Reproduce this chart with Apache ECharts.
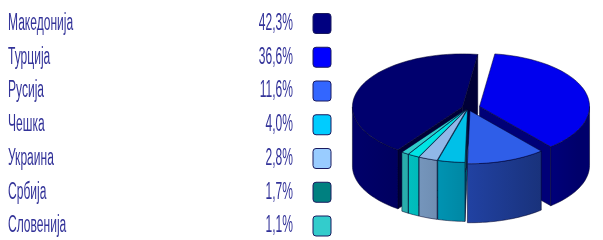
<!DOCTYPE html>
<html>
<head>
<meta charset="utf-8">
<script src="https://cdn.jsdelivr.net/npm/echarts@6/dist/echarts.min.js"></script>
<style>
html, body { margin: 0; padding: 0; background: #fff; }
#chart { width: 603px; height: 240px; }
</style>
</head>
<body>
<div id="chart"></div>
<script>
// udeli po zemji (%)
var countries = ['Македонија', 'Турција', 'Русија', 'Чешка', 'Украина', 'Србија', 'Словенија'];
var shares = [42.3, 36.6, 11.6, 4.0, 2.8, 1.7, 1.1];
var shareLabels = ['42,3%', '36,6%', '11,6%', '4,0%', '2,8%', '1,7%', '1,1%'];

// boi
var legendColors = ['#000080', '#0000ff', '#3366ff', '#00ccff', '#99ccff', '#008080', '#33cccc'];
var sliceColors = ['#00006e', '#0000ee', '#2f5ee8', '#00c0e8', '#90b8e8', '#00e4e4', '#30cccc'];
var explodeBy = [6, 12, 6, 3, 3, 3, 3];

// redosled na parcinjata (vo nasoka na strelkite, od gore)
var pieOrder = [1, 2, 3, 4, 5, 6, 0];
var firstAngle = 8;

var CX = 468, CY = 108, RX = 110, RY = 53, DEPTH = 59;
var FONT = '14px "Liberation Sans", Arial, sans-serif';
var TEXT_COLOR = '#333399';

var total = shares.reduce(function(a, b) { return a + b; }, 0);
var angles = [];
(function() {
	var a = firstAngle;
	pieOrder.forEach(function(idx) {
		var span = shares[idx] / total * 360;
		angles[idx] = [a, a + span];
		a += span;
	});
})();

function shade(hex, f) {
	var n = parseInt(hex.slice(1), 16);
	var r = Math.round(((n >> 16) & 255) * f);
	var g = Math.round(((n >> 8) & 255) * f);
	var b = Math.round((n & 255) * f);
	return 'rgb(' + r + ',' + g + ',' + b + ')';
}

function rim(cx, cy, th, dy) {
	var r = th * Math.PI / 180;
	return [cx + RX * Math.sin(r), cy - RY * Math.cos(r) + (dy || 0)];
}

function arcPts(cx, cy, a, b, dy) {
	var pts = [];
	var n = Math.max(2, Math.ceil((b - a) / 2));
	for (var i = 0; i <= n; i++) {
		pts.push(rim(cx, cy, a + (b - a) * i / n, dy));
	}
	return pts;
}

function sideGradient(color) {
	return new echarts.graphic.LinearGradient(CX - RX, 0, CX + RX, 0, [
		{ offset: 0, color: shade(color, 0.95) },
		{ offset: 1, color: shade(color, 0.45) }
	], true);
}

function renderItem(params, api) {
	var i = params.dataIndex;
	var rowY = 23.5 + i * 33.75;
	var children = [];

	// legenda
	children.push({
		type: 'text', x: 8, y: rowY, scaleX: 0.86, scaleY: 1.65, z2: 5,
		style: { text: countries[i], fill: TEXT_COLOR, font: FONT, textAlign: 'left', textVerticalAlign: 'middle' }
	});
	children.push({
		type: 'text', x: 293, y: rowY, scaleX: 0.86, scaleY: 1.65, z2: 5,
		style: { text: shareLabels[i], fill: TEXT_COLOR, font: FONT, textAlign: 'right', textVerticalAlign: 'middle' }
	});
	children.push({
		type: 'rect', z2: 5,
		shape: { x: 313, y: rowY - 10, width: 18, height: 20, r: 3 },
		style: { fill: legendColors[i], stroke: '#1a1a5e', lineWidth: 1 }
	});

	// 3D parce
	var a = angles[i][0], b = angles[i][1];
	var mid = (a + b) / 2 * Math.PI / 180;
	var e = explodeBy[i];
	var cx = CX + e * Math.sin(mid);
	var cy = CY - e * Math.cos(mid) * RY / RX;
	var col = sliceColors[i];
	var edge = { stroke: 'rgba(0,0,40,0.75)', lineWidth: 0.7 };

	// radijalni yidovi
	function wall(th) {
		var p = rim(cx, cy, th);
		return {
			type: 'polygon', z2: 1,
			shape: { points: [[cx, cy], p, [p[0], p[1] + DEPTH], [cx, cy + DEPTH]] },
			style: { fill: shade(col, 0.5), stroke: edge.stroke, lineWidth: edge.lineWidth }
		};
	}
	if (Math.sin(a * Math.PI / 180) < 0) children.push(wall(a));
	if (Math.sin(b * Math.PI / 180) > 0) children.push(wall(b));

	// strana (samo prednata polovina)
	var s0 = Math.max(a, 90), s1 = Math.min(b, 270);
	if (s1 > s0) {
		var top = arcPts(cx, cy, s0, s1, 0);
		var bottom = arcPts(cx, cy, s0, s1, DEPTH).reverse();
		children.push({
			type: 'polygon', z2: 2,
			shape: { points: top.concat(bottom) },
			style: { fill: sideGradient(col), stroke: edge.stroke, lineWidth: edge.lineWidth }
		});
	}

	// gorna povrsina
	children.push({
		type: 'polygon', z2: 3,
		shape: { points: [[cx, cy]].concat(arcPts(cx, cy, a, b, 0)) },
		style: { fill: col, stroke: edge.stroke, lineWidth: edge.lineWidth }
	});

	return { type: 'group', children: children };
}

var myChart = echarts.init(document.getElementById('chart'));
var option = {
	animation: false,
	series: [{
		type: 'custom',
		coordinateSystem: 'none',
		renderItem: renderItem,
		data: shares.map(function(v, i) { return { name: countries[i], value: v }; })
	}]
};
myChart.setOption(option);
</script>
</body>
</html>
